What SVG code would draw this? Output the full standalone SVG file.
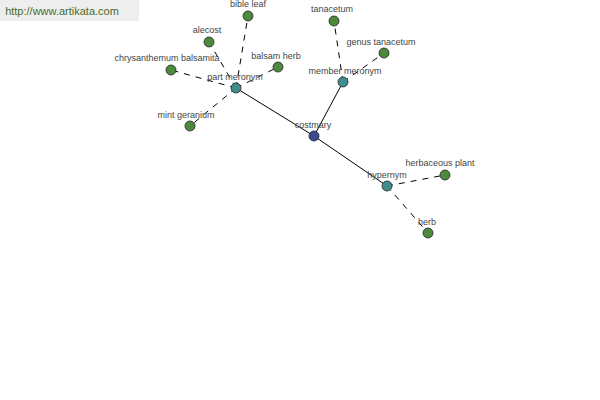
<svg xmlns="http://www.w3.org/2000/svg" width="600" height="400" viewBox="0 0 600 400">
<style>
text{font-family:"Liberation Sans",Arial,sans-serif;font-size:9px;fill:#444;text-anchor:middle}
.solid{stroke:#000;stroke-width:1;fill:none}
.dash{stroke:#000;stroke-width:1;fill:none;stroke-dasharray:6 6}
circle{stroke:#222;stroke-width:0.8}
.leaf{fill:#4e8a3e}
.cat{fill:#3f8f8f}
.root{fill:#3d4a8f}
</style>
<rect x="0" y="0" width="139" height="21" fill="#eeeeee"/>
<text x="62" y="15" style="font-size:11px;fill:#4a6a2a">http://www.artikata.com</text>
<g id="connectors">
<line class="solid" x1="314" y1="136" x2="236" y2="88"/>
<line class="solid" x1="314" y1="136" x2="343" y2="82"/>
<line class="solid" x1="314" y1="136" x2="387" y2="186"/>
<line class="dash" x1="236" y1="88" x2="248" y2="16"/>
<line class="dash" x1="236" y1="88" x2="209" y2="42"/>
<line class="dash" x1="236" y1="88" x2="171" y2="70"/>
<line class="dash" x1="236" y1="88" x2="278" y2="67"/>
<line class="dash" x1="236" y1="88" x2="190" y2="126"/>
<line class="dash" x1="343" y1="82" x2="334" y2="21"/>
<line class="dash" x1="343" y1="82" x2="384" y2="53"/>
<line class="dash" x1="387" y1="186" x2="445" y2="175"/>
<line class="dash" x1="387" y1="186" x2="428" y2="233"/>
</g>
<g id="costmary"><circle class="root" cx="314" cy="136" r="5"/><text x="313" y="128">costmary</text></g>
<g id="part_meronym"><circle class="cat" cx="236" cy="88" r="5"/><text x="235" y="80">part meronym</text></g>
<g id="member_meronym"><circle class="cat" cx="343" cy="82" r="5"/><text x="345" y="74">member meronym</text></g>
<g id="hypernym"><circle class="cat" cx="387" cy="186" r="5"/><text x="387" y="178">hypernym</text></g>
<g id="bible_leaf"><circle class="leaf" cx="248" cy="16" r="5"/><text x="248" y="7">bible leaf</text></g>
<g id="alecost"><circle class="leaf" cx="209" cy="42" r="5"/><text x="207" y="33">alecost</text></g>
<g id="chrysanthemum_balsamita"><circle class="leaf" cx="171" cy="70" r="5"/><text x="167" y="61">chrysanthemum balsamita</text></g>
<g id="balsam_herb"><circle class="leaf" cx="278" cy="67" r="5"/><text x="276" y="59">balsam herb</text></g>
<g id="mint_geranium"><circle class="leaf" cx="190" cy="126" r="5"/><text x="186" y="118">mint geranium</text></g>
<g id="tanacetum"><circle class="leaf" cx="334" cy="21" r="5"/><text x="332" y="12">tanacetum</text></g>
<g id="genus_tanacetum"><circle class="leaf" cx="384" cy="53" r="5"/><text x="381" y="45">genus tanacetum</text></g>
<g id="herbaceous_plant"><circle class="leaf" cx="445" cy="175" r="5"/><text x="440" y="166">herbaceous plant</text></g>
<g id="herb"><circle class="leaf" cx="428" cy="233" r="5"/><text x="427" y="225">herb</text></g>
</svg>
